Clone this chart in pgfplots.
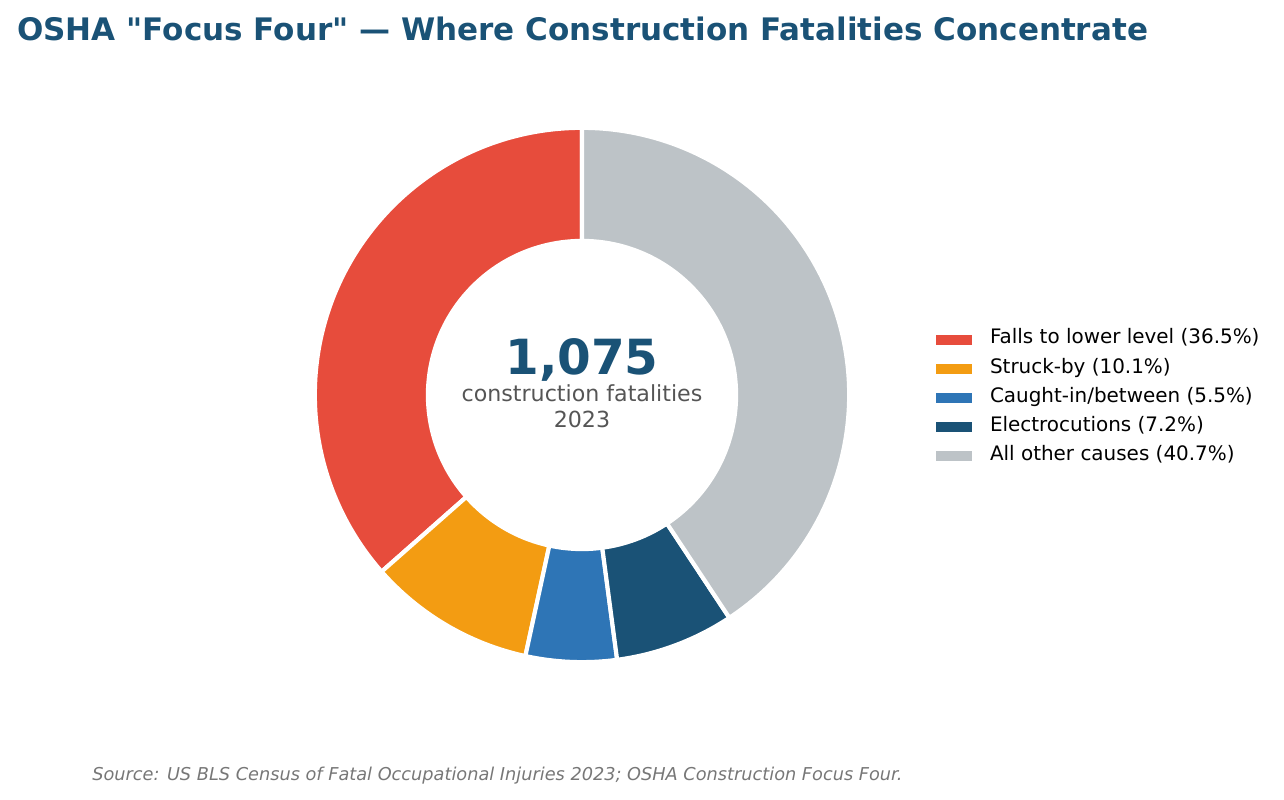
\documentclass[border=0pt]{standalone}
\usepackage{pgfplots}
\pgfplotsset{compat=1.18}
\usepackage{fontspec}
\setmainfont{DejaVu Sans}
\newfontfamily\plainfont{DejaVu Sans}
\definecolor{cFalls}{HTML}{E74C3C}
\definecolor{cStruck}{HTML}{F39C12}
\definecolor{cCaught}{HTML}{2E75B6}
\definecolor{cElec}{HTML}{1A5276}
\definecolor{cOther}{HTML}{BDC3C7}
\definecolor{titleblue}{HTML}{1A5276}
\definecolor{subgray}{HTML}{555555}
\definecolor{srcgray}{HTML}{777777}
\begin{document}
\begin{tikzpicture}
\begin{axis}[
  x=0.01in, y=0.01in,
  xmin=0, xmax=1284, ymin=0, ymax=800,
  hide axis, clip=false,
  legend cell align=left,
  legend image code/.code={\path[fill] (0in,-0.05in) rectangle (0.36in,0.05in);},
  legend style={draw=none, fill=none, at={(axis cs:936,468)}, anchor=north west,
    inner sep=0pt, outer sep=0pt, row sep=0.13in,
    font=\fontsize{14.4}{17}\selectfont,
    nodes={inner sep=0pt, text height=0.12in, text depth=0.04in},
    /tikz/every odd column/.style={column sep=0.18in}},
]
\path (axis cs:0,0) rectangle (axis cs:1284,800);
% donut wedges: percent / colour
\gdef\startang{90}
\foreach \v/\c in {36.5/cFalls, 10.1/cStruck, 5.5/cCaught, 7.2/cElec, 40.7/cOther} {
  \pgfmathsetmacro\endang{\startang+3.6*\v}
  \edef\temp{\noexpand\fill[\c, draw=white, line width=3pt, line join=miter]
    ([shift={(\startang:2.67in)}]axis cs:582,405)
    arc[start angle=\startang, end angle=\endang, radius=2.67in]
    -- ([shift={(\endang:1.54in)}]axis cs:582,405)
    arc[start angle=\endang, end angle=\startang, radius=1.54in] -- cycle;}
  \temp
  \global\let\startang\endang
}
\addlegendimage{fill=cFalls, draw=none}
\addlegendentry{Falls to lower level (36.5\%)}
\addlegendimage{fill=cStruck, draw=none}
\addlegendentry{Struck-by (10.1\%)}
\addlegendimage{fill=cCaught, draw=none}
\addlegendentry{Caught-in/between (5.5\%)}
\addlegendimage{fill=cElec, draw=none}
\addlegendentry{Electrocutions (7.2\%)}
\addlegendimage{fill=cOther, draw=none}
\addlegendentry{All other causes (40.7\%)}
% texts
\node[anchor=base west, inner sep=0pt, text=titleblue, font=\plainfont\fontsize{22.4}{27}\selectfont\bfseries]
  at (axis cs:17,759) {OSHA "Focus Four" — Where Construction Fatalities Concentrate};
\node[anchor=base, inner sep=0pt, text=titleblue, font=\fontsize{35}{42}\selectfont\bfseries]
  at (axis cs:582,425) {1,075};
\node[anchor=base, inner sep=0pt, text=subgray, font=\fontsize{16}{19}\selectfont]
  at (axis cs:582,398) {construction fatalities};
\node[anchor=base, inner sep=0pt, text=subgray, font=\fontsize{16}{19}\selectfont]
  at (axis cs:582,372) {2023};
\node[anchor=base west, inner sep=0pt, text=srcgray, font=\fontsize{12.8}{15}\selectfont\itshape]
  at (axis cs:92,19) {Source: US BLS Census of Fatal Occupational Injuries 2023; OSHA Construction Focus Four.};
\end{axis}
\end{tikzpicture}
\end{document}
